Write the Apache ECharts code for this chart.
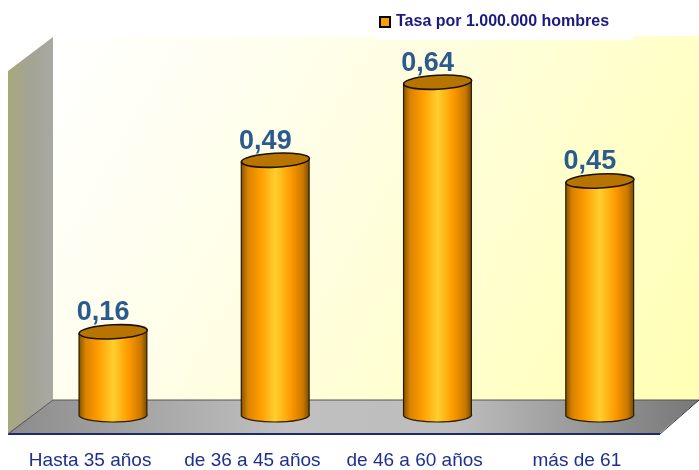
<!DOCTYPE html>
<html><head><meta charset="utf-8">
<style>html,body{margin:0;padding:0;background:#fff}#c{width:699px;height:470px}</style>
<script src="https://cdn.jsdelivr.net/npm/echarts@6/dist/echarts.min.js"></script>
</head><body><div id="c"></div>
<script>
const categories = ['Hasta 35 años','de 36 a 45 años','de 46 a 60 años','más de 61'];
const values = [0.16,0.49,0.64,0.45];
const seriesName = 'Tasa por 1.000.000 hombres';

const chart = echarts.init(document.getElementById('c'),null,{renderer:'canvas'});
const lg=(x0,y0,x1,y1,stops)=>new echarts.graphic.LinearGradient(x0,y0,x1,y1,stops.map(s=>({offset:s[0],color:s[1]})));
const bodyFill=lg(0,0,1,0,[[0,'#7d4f00'],[0.1,'#d98200'],[0.28,'#ff9c00'],[0.5,'#ffcf2e'],[0.72,'#ff9a00'],[0.9,'#c97800'],[1,'#6e4500']]);

function renderCyl(params,api){
  const i=api.value(0), v=api.value(1);
  const top=api.coord([i,v]), base=api.coord([i,0]);
  const w=api.size([1,0])[0]*0.42, rx=w/2, ry=7, cx=top[0];
  const tilt=0.05;
  const d=`M${cx-rx} ${top[1]+2} L${cx-rx} ${base[1]-1} A${rx} ${ry} 0 0 0 ${cx+rx} ${base[1]-3} L${cx+rx} ${top[1]-2} Z`;
  return {type:'group',children:[
    {type:'path',shape:{pathData:d,layout:'cover',x:cx-rx,y:top[1]-2,width:w,height:base[1]-top[1]+ry+2},
      style:{fill:bodyFill,stroke:'#2a1c00',lineWidth:1.2}},
    {type:'ellipse',shape:{cx:cx,cy:top[1],rx:rx,ry:ry},rotation:tilt,originX:cx,originY:top[1],
      style:{fill:'#b87400',stroke:'#1a1200',lineWidth:1.6}},
    {type:'text',x:cx-10,y:top[1]-19,style:{text:v.toFixed(2).replace('.',','),x:0,y:0,align:'center',verticalAlign:'middle',
      font:'bold 27px "Liberation Sans",Arial,sans-serif',fill:'#2a5a8f'}}
  ]};
}

chart.setOption({
  animation:false,
  backgroundColor:'#fff',
  graphic:{elements:[
    {type:'polygon',z:-10,shape:{points:[[53,37],[699,36],[699,400],[53,400]]},silent:true,
      style:{fill:lg(0,0,1,1,[[0,'#ffffff'],[0.35,'#fffee8'],[0.75,'#ffffc8'],[1,'#ffffb4']])}},
    {type:'rect',z:-10,shape:{x:375,y:30,width:258,height:10},silent:true,style:{fill:'#ffffff'}},
    {type:'polygon',z:-9,shape:{points:[[8,71],[53,37],[53,400],[8,434]]},silent:true,
      style:{fill:lg(0,0,1,0,[[0,'#a9a97e'],[0.5,'#a3a394'],[1,'#a9a9a4']])}},
    {type:'polygon',z:-8,shape:{points:[[8,433],[53,400],[699,400],[660,433]]},silent:true,
      style:{fill:lg(0,0,1,0,[[0,'#8c8c8c'],[0.4,'#c0c0c0'],[0.65,'#bdbdbd'],[1,'#777777']])}},
    {type:'polyline',z:-7,shape:{points:[[53,400],[699,400]]},silent:true,style:{stroke:'#555',lineWidth:1,fill:null}},
    {type:'polyline',z:-7,shape:{points:[[8,434],[660,434]]},silent:true,style:{stroke:'#1c2a70',lineWidth:2,fill:null}},
    {type:'polyline',z:-7,shape:{points:[[8,434],[53,400]]},silent:true,style:{stroke:'#555',lineWidth:1,fill:null}},
    {type:'polyline',z:-7,shape:{points:[[660,434],[699,400]]},silent:true,style:{stroke:'#333',lineWidth:1,fill:null}}
  ]},
  legend:{show:true,left:379,top:14,padding:0,itemWidth:10,itemHeight:10,itemGap:4,
    data:[{name:seriesName,icon:'rect',itemStyle:{color:'#ff9c00',borderColor:'#000',borderWidth:2}}],
    textStyle:{color:'#1a1a80',fontWeight:'bold',fontSize:16,fontFamily:'"Liberation Sans",sans-serif',padding:[0,0,0,1]}},
  grid:{left:32,right:18,top:51,bottom:53},
  xAxis:{type:'category',data:categories,axisLine:{show:false},axisTick:{show:false},
    axisLabel:{interval:0,hideOverlap:false,margin:36,padding:[0,46,0,0],fontSize:19,color:'#1f2f8f',fontFamily:'"Liberation Sans",sans-serif'}},
  yAxis:{type:'value',min:0,max:0.7,show:false,splitLine:{show:false}},
  series:[{name:seriesName,type:'custom',coordinateSystem:'cartesian2d',clip:false,
    itemStyle:{color:'#ff9c00'},
    encode:{x:0,y:1},
    renderItem:renderCyl,
    data:values.map((v,i)=>[i,v])}]
});
</script></body></html>
